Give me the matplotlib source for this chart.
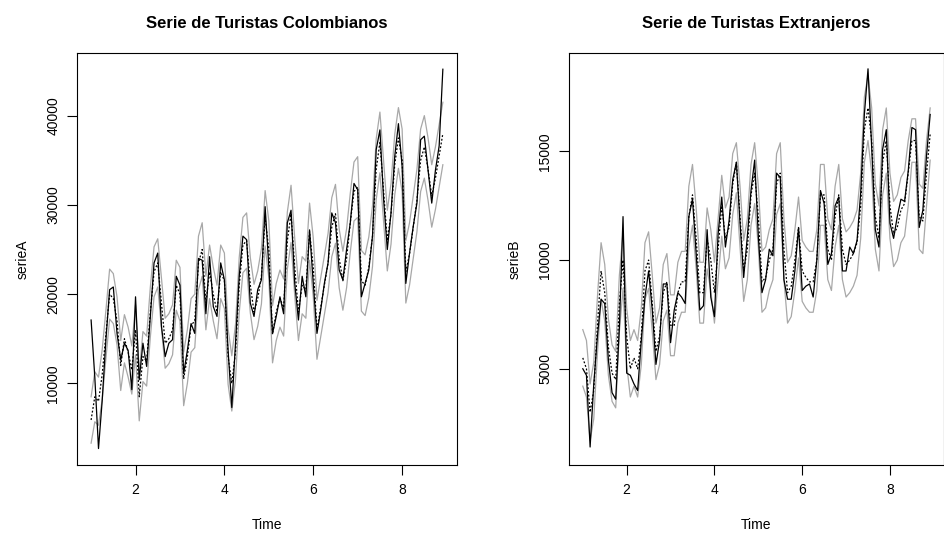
import numpy as np
import matplotlib.pyplot as plt

plt.rcParams['font.family'] = ['Liberation Sans', 'DejaVu Sans']

# serie mensual, 8 años (frecuencia 12), inicia en t = 1
n_obs = 96
tiempo = 1 + np.arange(n_obs) / 12

# --- Turistas Colombianos ---
serieA = [17100, 10700, 2700, 8100, 14900, 20500, 20800, 15600, 12600, 14500, 13700, 9300,
          19700, 10400, 14500, 11900, 17500, 23500, 24600, 16400, 13000, 14500, 14900, 22000,
          21000, 11100, 13700, 16700, 15600, 24000, 23800, 17800, 24200, 18600, 17500, 23500,
          21600, 13700, 7300, 14500, 22000, 26500, 26100, 19000, 17500, 20500, 21600, 29800,
          23100, 15600, 17500, 19700, 17800, 28000, 29400, 21200, 17100, 22000, 19700, 27200,
          21200, 15600, 18200, 21200, 23500, 29100, 28000, 22700, 21600, 25000, 28000, 32400,
          31700, 19700, 21200, 22700, 26500, 36200, 38400, 30600, 25000, 29100, 35400, 39100,
          34300, 21200, 24600, 27600, 30200, 37300, 37700, 33900, 30200, 33900, 36600, 45200]
ajusteA = [5900, 8500, 8000, 11000, 15500, 20000, 19500, 17000, 12000, 15000, 13500, 11500,
           16000, 8500, 13000, 12500, 18000, 22500, 23500, 19000, 14500, 15000, 16000, 21000,
           20000, 10500, 13000, 16500, 17000, 23500, 25000, 19000, 22500, 20000, 18000, 22500,
           21500, 13000, 10000, 13500, 21000, 25500, 26000, 21000, 18000, 19500, 22000, 28500,
           25000, 15500, 18000, 19500, 18500, 26000, 29000, 23000, 18000, 21000, 20500, 27000,
           23000, 16000, 18500, 21000, 23500, 27500, 29000, 24000, 21500, 24000, 28000, 31500,
           32000, 21500, 21000, 23000, 26500, 34000, 37000, 31500, 26000, 29000, 34500, 37500,
           35000, 22500, 24500, 27500, 30500, 35000, 36500, 34000, 31000, 33000, 35500, 38000]
supA = [8500, 11300, 10700, 13800, 18200, 22800, 22300, 19700, 14800, 17700, 16300, 14200,
        18800, 11200, 15800, 15300, 20800, 25300, 26200, 21800, 17300, 17800, 18800, 23800,
        23000, 13500, 16000, 19500, 20000, 26500, 28000, 22000, 25500, 23000, 21000, 25500,
        24600, 16100, 13100, 16600, 24100, 28600, 29100, 24100, 21100, 22600, 25100, 31600,
        28200, 18700, 21200, 22700, 21700, 29200, 32200, 26200, 21200, 24200, 23700, 30200,
        26300, 19300, 21800, 24300, 26800, 30800, 32300, 27300, 24800, 27300, 31300, 34800,
        35400, 24900, 24400, 26400, 29900, 37400, 40400, 34900, 29400, 32400, 37900, 40900,
        38500, 26000, 28000, 31000, 34000, 38500, 40000, 37500, 34500, 36500, 39000, 41500]
infA = [3300, 5700, 5300, 8200, 12800, 17200, 16700, 14300, 9200, 12300, 10700, 8800,
        13200, 5800, 10200, 9700, 15200, 19700, 20800, 16200, 11700, 12200, 13200, 18200,
        17000, 7500, 10000, 13500, 14000, 20500, 22000, 16000, 19500, 17000, 15000, 19500,
        18400, 9900, 6900, 10400, 17900, 22400, 22900, 17900, 14900, 16400, 18900, 25400,
        21800, 12300, 14800, 16300, 15300, 22800, 25800, 19800, 14800, 17800, 17300, 23800,
        19700, 12700, 15200, 17700, 20200, 24200, 25700, 20700, 18200, 20700, 24700, 28200,
        28600, 18100, 17600, 19600, 23100, 30600, 33600, 28100, 22600, 25600, 31100, 34100,
        31500, 19000, 21000, 24000, 27000, 31500, 33000, 30500, 27500, 29500, 32000, 34500]

# --- Turistas Extranjeros ---
serieB = [5000, 4700, 1400, 4300, 6500, 8200, 8000, 5400, 3900, 3600, 6900, 12000,
          4800, 4700, 4300, 4000, 6300, 8300, 9500, 7700, 5200, 6300, 8900, 8900,
          6200, 7700, 8500, 8300, 8000, 12000, 12800, 10300, 7700, 7900, 11400, 8300,
          7400, 11200, 12900, 10600, 11800, 13700, 14500, 11700, 9200, 11100, 13200, 14600,
          11100, 8500, 9100, 10500, 10200, 14000, 13800, 9100, 8200, 8200, 9500, 11500,
          8600, 8800, 8900, 8300, 10000, 13200, 12600, 9800, 10300, 12500, 12900, 9500,
          9500, 10600, 10300, 10900, 13100, 16700, 18800, 15200, 11400, 10600, 15100, 16000,
          11700, 11000, 12000, 12800, 12700, 14100, 16100, 16000, 11500, 12300, 14800, 16700]
ajusteB = [5500, 5000, 3000, 4000, 7000, 9500, 8500, 6000, 4800, 4500, 8000, 10000,
           6500, 5000, 5500, 5000, 6500, 9500, 10000, 8000, 5800, 6500, 8500, 9000,
           7000, 7000, 8500, 9000, 9000, 12000, 13000, 11000, 8500, 8500, 11000, 10000,
           8500, 10500, 12500, 11000, 11500, 13500, 14500, 12000, 9500, 10500, 13000, 14000,
           12000, 9000, 9200, 10000, 10500, 13500, 14000, 10500, 8500, 8800, 10000, 11500,
           9500, 9200, 9000, 9000, 10000, 13000, 13000, 10500, 10000, 12000, 13000, 10500,
           9800, 10000, 10300, 10800, 12500, 16000, 17000, 15500, 12000, 11000, 14500, 15500,
           12500, 11200, 11500, 12300, 12600, 14000, 15500, 15500, 12000, 11800, 14000, 15800]
supB = [6800, 6300, 4300, 5300, 8300, 10800, 9800, 7300, 6100, 5800, 9300, 11300,
        7800, 6300, 6800, 6300, 7800, 10800, 11300, 9300, 7100, 7800, 9800, 10300,
        8400, 8400, 9900, 10400, 10400, 13400, 14400, 12400, 9900, 9900, 12400, 11400,
        9900, 11900, 13900, 12400, 12900, 14900, 15400, 13400, 10900, 11900, 14400, 15400,
        13400, 10400, 10600, 11400, 11900, 14900, 15400, 11900, 9900, 10200, 11400, 12900,
        10900, 10600, 10400, 10400, 11400, 14400, 14400, 11900, 11400, 13400, 14400, 11900,
        11300, 11500, 11800, 12300, 14000, 17500, 18500, 17000, 13500, 12500, 16000, 17000,
        14000, 12700, 13000, 13800, 14100, 15500, 16500, 16500, 13500, 13300, 15500, 17000]
infB = [4200, 3700, 1700, 2700, 5700, 8200, 7200, 4700, 3500, 3200, 6700, 8700,
        5200, 3700, 4200, 3700, 5200, 8200, 8700, 6700, 4500, 5200, 7200, 7700,
        5600, 5600, 7100, 7600, 7600, 10600, 11600, 9600, 7100, 7100, 9600, 8600,
        7100, 9100, 11100, 9600, 10100, 12100, 13100, 10600, 8100, 9100, 11600, 12600,
        10600, 7600, 7800, 8600, 9100, 12100, 12600, 9100, 7100, 7400, 8600, 10100,
        8100, 7800, 7600, 7600, 8600, 11600, 11600, 9100, 8600, 10600, 11600, 9100,
        8300, 8500, 8800, 9300, 11000, 14500, 15500, 14000, 10500, 9500, 13000, 14000,
        11000, 9700, 10000, 10800, 11100, 12500, 14500, 14500, 10500, 10300, 12500, 14600]

fig = plt.figure(figsize=(9.45, 5.37), dpi=100)
ax1 = fig.add_axes([0.0815, 0.134, 0.402, 0.767])
ax2 = fig.add_axes([0.602, 0.134, 0.397, 0.767])

paneles = [
    (ax1, serieA, ajusteA, supA, infA, 'serieA', 'Serie de Turistas Colombianos',
     (850, 47000), [10000, 20000, 30000, 40000]),
    (ax2, serieB, ajusteB, supB, infB, 'serieB', 'Serie de Turistas Extranjeros',
     (570, 19520), [5000, 10000, 15000]),
]

for ax, obs, ajuste, sup, inf, ylab, titulo, ylim, yticks in paneles:
    ax.plot(tiempo, sup, color='#a8a8a8', lw=0.9)
    ax.plot(tiempo, inf, color='#a8a8a8', lw=0.9)
    ax.plot(tiempo, ajuste, color='black', lw=0.9, linestyle=(0, (1.5, 1.5)))
    ax.plot(tiempo, obs, color='black', lw=0.9)
    ax.set_xlim(0.683, 9.233)
    ax.set_ylim(*ylim)
    ax.set_xticks([2, 4, 6, 8])
    ax.set_yticks(yticks)
    ax.set_yticklabels([str(v) for v in yticks], rotation=90, va='center')
    ax.tick_params(direction='out', length=7, width=0.8, labelsize=10, pad=6)
    ax.tick_params(axis='y', pad=5)
    for s in ax.spines.values():
        s.set_linewidth(0.8)
    ax.set_xlabel('Time', fontsize=10, labelpad=15)
    ax.set_ylabel(ylab, fontsize=10, labelpad=12)
    ax.set_title(titulo, fontsize=12, fontweight='bold', pad=18)

fig.savefig('out.png', dpi=100)
